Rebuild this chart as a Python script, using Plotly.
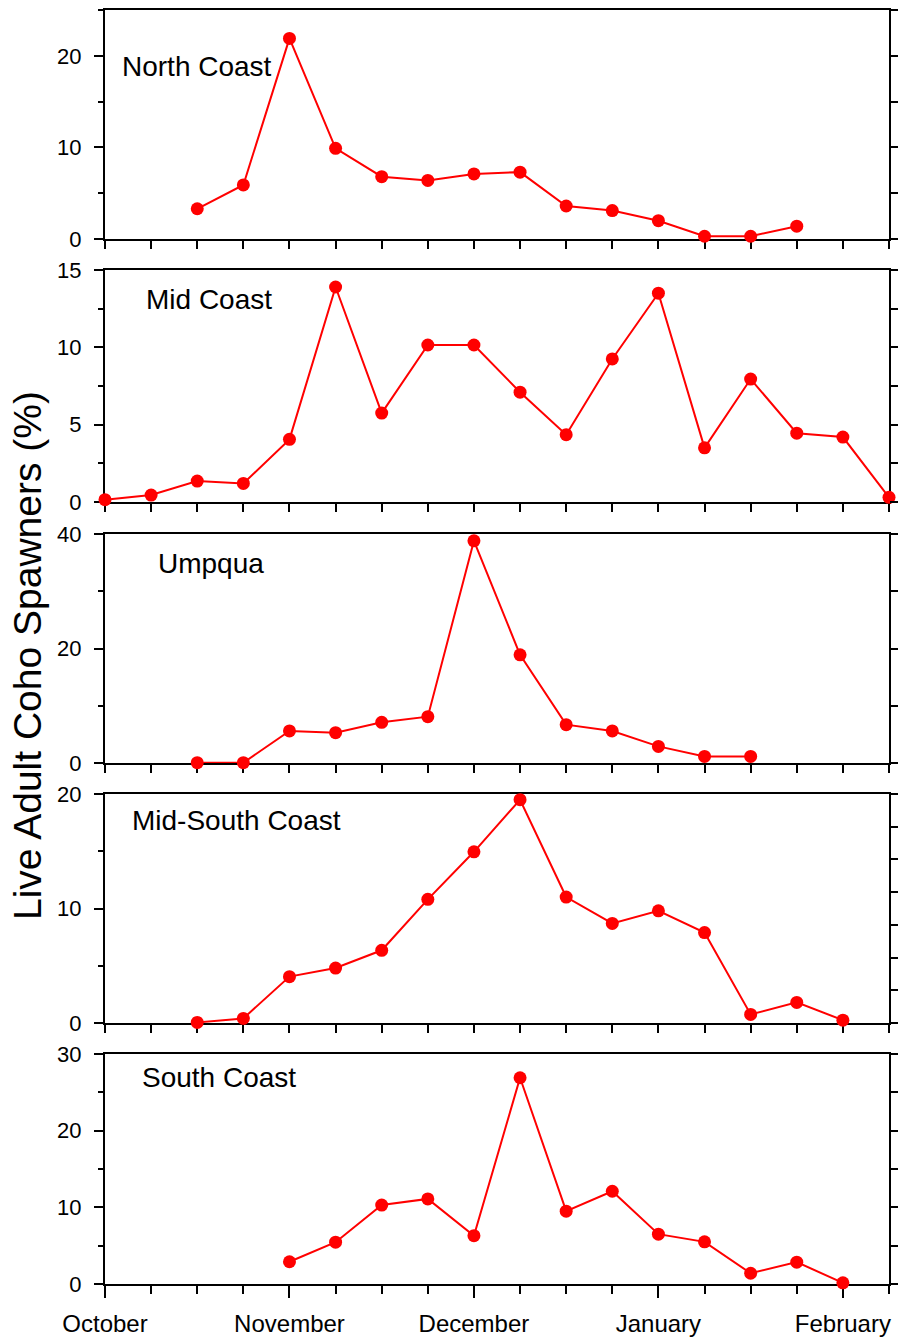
import plotly.graph_objects as go

# ---------------- data ----------------
month_labels = ["October", "November", "December", "January", "February"]
month_ticks = [0, 4, 8, 12, 16]

panel_names = ["North Coast", "Mid Coast", "Umpqua", "Mid-South Coast", "South Coast"]

north_weeks = [2, 3, 4, 5, 6, 7, 8, 9, 10, 11, 12, 13, 14, 15]
north_vals = [3.3, 5.9, 21.9, 9.9, 6.8, 6.4, 7.1, 7.3, 3.6, 3.1, 2.0, 0.3, 0.3, 1.4]

mid_weeks = [0, 1, 2, 3, 4, 5, 6, 7, 8, 9, 10, 11, 12, 13, 14, 15, 16, 17]
mid_vals = [0.15, 0.45, 1.35, 1.2, 4.05, 13.9, 5.75, 10.15, 10.15, 7.1, 4.35, 9.25,
            13.5, 3.5, 7.95, 4.45, 4.2, 0.3]

umpqua_weeks = [2, 3, 4, 5, 6, 7, 8, 9, 10, 11, 12, 13, 14]
umpqua_vals = [0.05, 0.05, 5.6, 5.3, 7.1, 8.1, 38.8, 18.9, 6.7, 5.6, 2.9, 1.15, 1.15]

midsouth_weeks = [2, 3, 4, 5, 6, 7, 8, 9, 10, 11, 12, 13, 14, 15, 16]
midsouth_vals = [0.05, 0.4, 4.05, 4.8, 6.35, 10.8, 14.95, 19.5, 11.0, 8.7, 9.8, 7.9,
                 0.75, 1.8, 0.25]

south_weeks = [4, 5, 6, 7, 8, 9, 10, 11, 12, 13, 14, 15, 16]
south_vals = [2.9, 5.45, 10.3, 11.1, 6.3, 26.9, 9.5, 12.1, 6.5, 5.5, 1.4, 2.85, 0.15]

y_max = [25, 15, 40, 20, 30]
y_major = [10, 5, 20, 10, 10]
y_minor = [5, 2.5, 10, 5, 5]
right_max = [25, 15, 40, 7, 30]
right_step = [5, 2.5, 10, 1, 5]

series = [
    (north_weeks, north_vals),
    (mid_weeks, mid_vals),
    (umpqua_weeks, umpqua_vals),
    (midsouth_weeks, midsouth_vals),
    (south_weeks, south_vals),
]

# ---------------- layout geometry ----------------
W, H = 898, 1339
ML, MR, MT, MB = 105, 9, 10, 55
plot_h = H - MT - MB
panel_px = [(10, 239), (270, 502), (534, 763), (794, 1023), (1054, 1284)]
label_pos = [(0.019, 0.755), (0.050, 0.871), (0.065, 0.873), (0.032, 0.886), (0.045, 0.896)]

FONT = "Liberation Sans, Arial, sans-serif"
RED = "#FF0000"

fig = go.Figure()
layout = dict(
    width=W, height=H, autosize=False,
    margin=dict(l=ML, r=MR, t=MT, b=MB, autoexpand=False),
    plot_bgcolor="white", paper_bgcolor="white",
    showlegend=False,
    font=dict(family=FONT, color="black"),
)
annotations = []

for i in range(5):
    n = i + 1
    xa = "x" if n == 1 else f"x{n}"
    ya = "y" if n == 1 else f"y{n}"
    yr = f"y{n + 5}"
    xkey = "xaxis" if n == 1 else f"xaxis{n}"
    ykey = "yaxis" if n == 1 else f"yaxis{n}"
    yrkey = f"yaxis{n + 5}"

    top, bot = panel_px[i]
    d0 = (H - MB - bot) / plot_h
    d1 = (H - MB - top) / plot_h

    wx, wy = series[i]
    fig.add_trace(go.Scatter(
        x=wx, y=wy, xaxis=xa, yaxis=ya, mode="lines+markers",
        line=dict(color=RED, width=2),
        marker=dict(color=RED, size=13),
        cliponaxis=False, hoverinfo="skip",
    ))
    fig.add_trace(go.Scatter(x=[], y=[], xaxis=xa, yaxis=yr, mode="markers",
                             hoverinfo="skip"))

    last = (i == 4)
    layout[xkey] = dict(
        domain=[0, 1], anchor=ya, range=[0, 17],
        tickmode="array", tickvals=month_ticks,
        ticktext=month_labels if last else [""] * 5,
        showticklabels=last,
        ticks="outside", ticklen=12, tickwidth=2, tickcolor="black",
        minor=dict(dtick=1, tick0=0, ticks="outside", ticklen=8, tickwidth=2,
                   tickcolor="black", showgrid=False),
        showline=True, linecolor="black", linewidth=2, mirror=True,
        showgrid=False, zeroline=False, automargin=False,
        tickfont=dict(family=FONT, size=24, color="black"),
        ticklabelstandoff=5,
        layer="below traces",
    )
    layout[ykey] = dict(
        domain=[d0, d1], anchor=xa, range=[0, y_max[i]],
        tick0=0, dtick=y_major[i],
        ticks="outside", ticklen=9, tickwidth=2, tickcolor="black",
        minor=dict(dtick=y_minor[i], tick0=0, ticks="outside", ticklen=5,
                   tickwidth=2, tickcolor="black", showgrid=False),
        showline=True, linecolor="black", linewidth=2, mirror=True,
        showgrid=False, zeroline=False, automargin=False,
        tickfont=dict(family=FONT, size=22, color="black"),
        ticklabelstandoff=8,
        layer="below traces",
    )
    layout[yrkey] = dict(
        overlaying=ya, side="right", anchor=xa, range=[0, right_max[i]],
        tick0=0, dtick=right_step[i], ticks="outside", ticklen=8, tickwidth=2,
        tickcolor="black", showticklabels=False, showgrid=False, zeroline=False,
        showline=False, automargin=False,
    )
    annotations.append(dict(
        text=panel_names[i], xref=f"{xa} domain", yref=f"{ya} domain",
        x=label_pos[i][0], y=label_pos[i][1], xanchor="left", yanchor="middle",
        showarrow=False, font=dict(family=FONT, size=28, color="black"),
    ))

annotations.append(dict(
    text="Live Adult Coho Spawners (%)", xref="paper", yref="paper",
    x=(27 - ML) / (W - ML - MR), y=(H - MB - 656) / plot_h,
    xanchor="center", yanchor="middle", textangle=-90, showarrow=False,
    font=dict(family=FONT, size=39, color="black"),
))
layout["annotations"] = annotations

fig.update_layout(**layout)

fix_page = (
    "document.documentElement.style.margin='0';"
    "document.documentElement.style.overflow='hidden';"
    "document.body.style.margin='0';document.body.style.padding='0';"
    "document.body.style.overflow='hidden';"
    "var gd=document.getElementById('{plot_id}');"
    "gd.style.position='fixed';gd.style.left='0px';gd.style.top='0px';"
)
fig.write_html(
    "out.html",
    config={"displayModeBar": False, "responsive": False},
    post_script=fix_page,
)
